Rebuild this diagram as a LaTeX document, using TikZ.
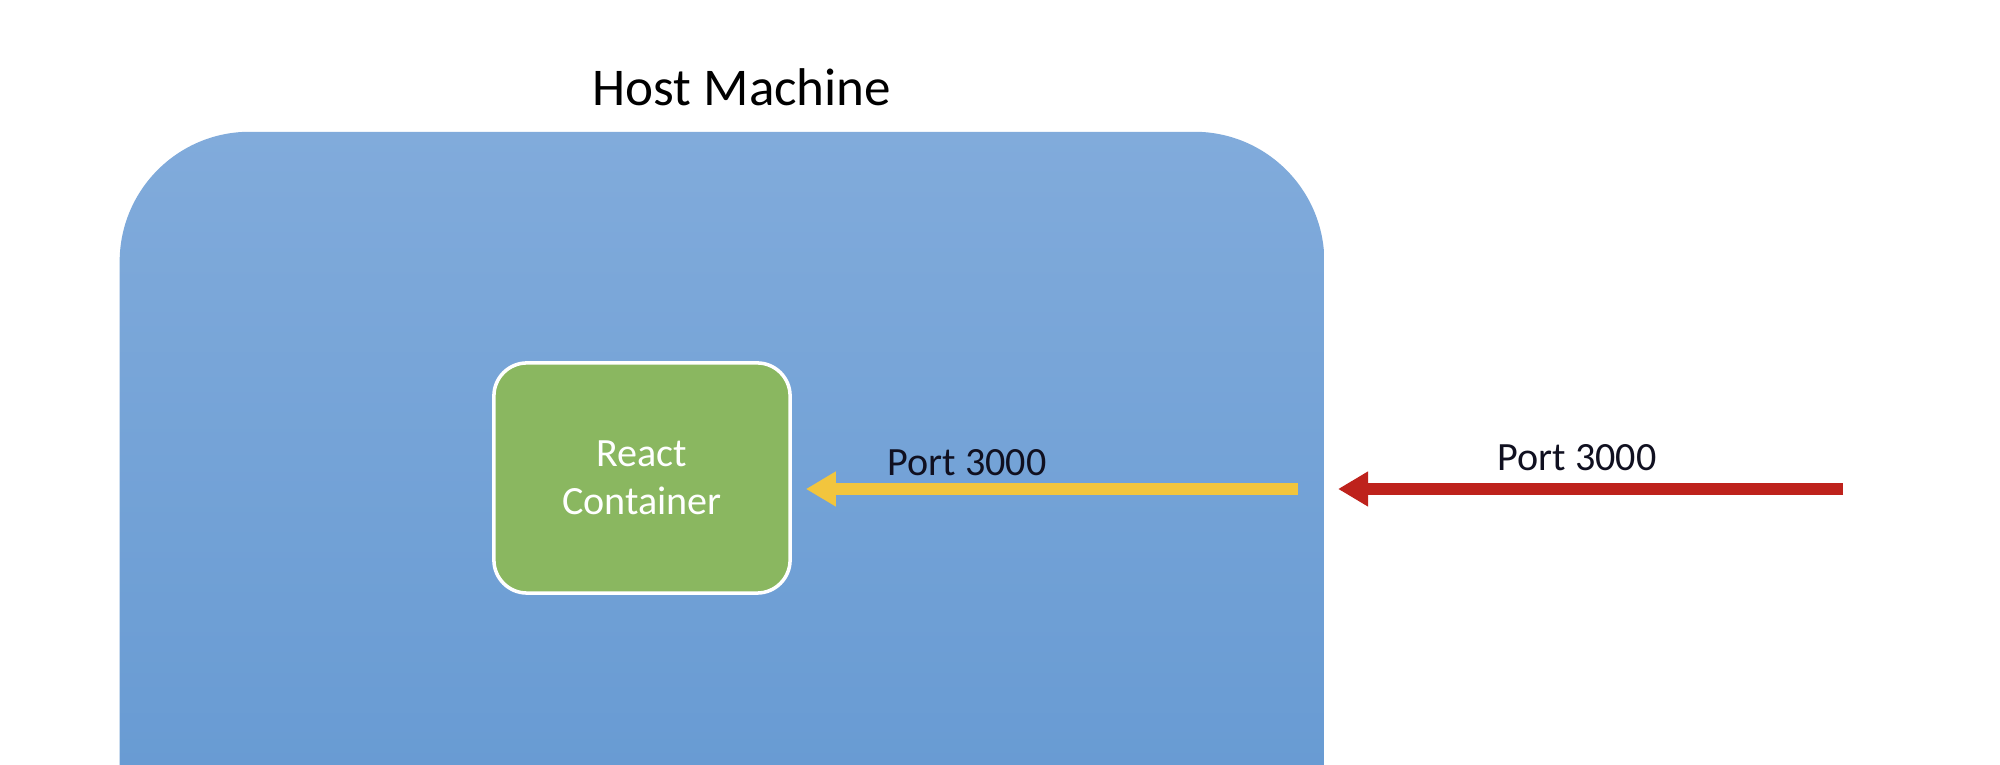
\documentclass[tikz,border=0pt]{standalone}
\usepackage{fontspec}
\setmainfont{Carlito}
\usetikzlibrary{arrows.meta}

\definecolor{hosttop}{RGB}{129,171,219}
\definecolor{hostbot}{RGB}{98,151,209}
\definecolor{boxgreen}{RGB}{138,183,96}
\definecolor{portyellow}{RGB}{242,197,61}
\definecolor{portred}{RGB}{190,34,28}
\definecolor{labelink}{RGB}{16,16,32}

\begin{document}
\begin{tikzpicture}
  [x=0.01cm,y=-0.01cm,
   host/.style={rectangle,rounded corners=0.13cm,top color=hosttop,bottom color=hostbot,
     minimum width=12.04cm,minimum height=8cm,inner sep=0pt},
   container/.style={rectangle,rounded corners=0.33cm,fill=boxgreen,draw=white,line width=1pt,
     minimum width=2.96cm,minimum height=2.3cm,align=center,text=white,
     font=\fontsize{11.4}{13.7}\selectfont},
   portlabel/.style={text=labelink,font=\fontsize{11.4}{13.7}\selectfont},
   portarrow/.style={line width=0.12cm,-{Triangle[length=0.3cm,width=0.33cm]}}]
  \path[use as bounding box,clip] (0,0) rectangle (2000,765);
  \fill[white] (0,0) rectangle (2000,765);

  \node (host) at (722,532) [host,rounded corners=1.3cm] {};
  \node (hostname) at (742,87) [font=\fontsize{15.1}{18}\selectfont] {Host Machine};
  \node (react) at (642,478) [container] {React\\Container};

  \coordinate (hostport) at (1298,489);
  \coordinate (outside) at (1843,489);
  \node (innerport) at (967,463) [portlabel] {Port 3000};
  \node (outerport) at (1577,458) [portlabel] {Port 3000};

  \draw[portarrow,portyellow,shorten >=0.14cm] (hostport) -- (react.east |- hostport);
  \draw[portarrow,portred,shorten >=0.13cm] (outside) -- (host.east |- outside);

\end{tikzpicture}
\end{document}
